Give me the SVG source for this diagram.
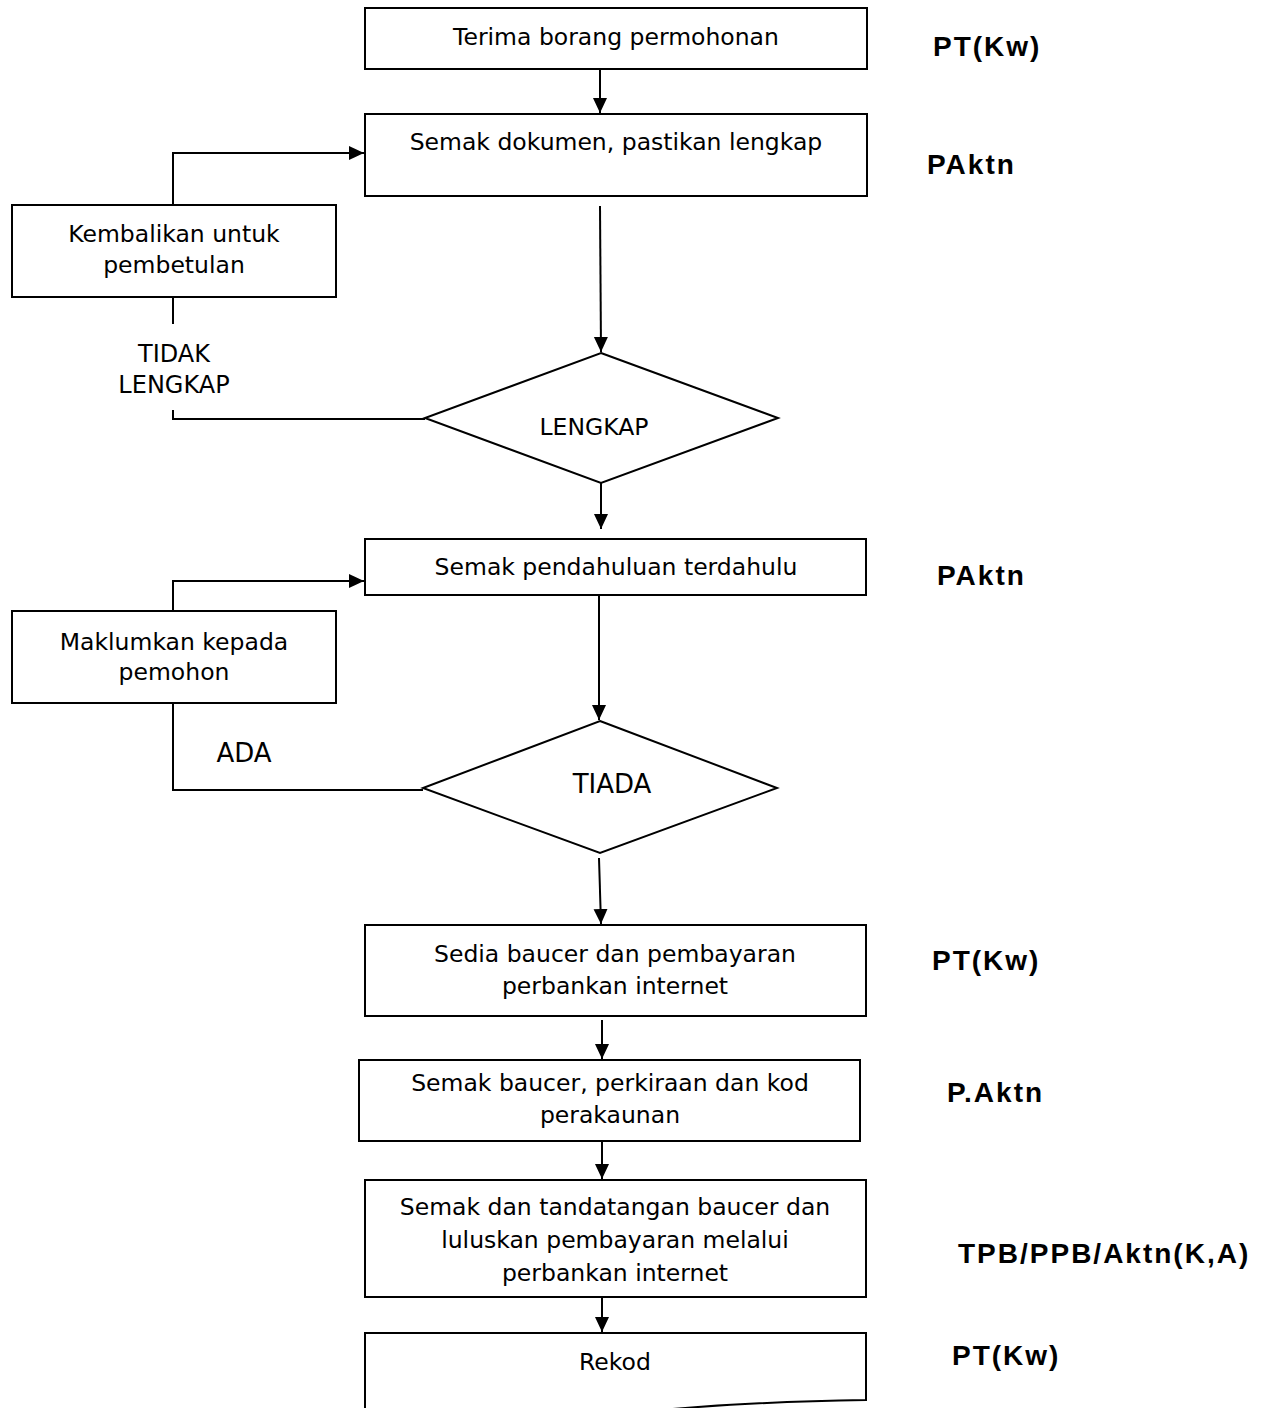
<svg xmlns="http://www.w3.org/2000/svg" width="1264" height="1408" viewBox="0 0 1264 1408">
<style>
.box{fill:#fff;stroke:#000;stroke-width:2}
.ln{fill:none;stroke:#000;stroke-width:2}
.t{font-family:"DejaVu Sans",Verdana,sans-serif;font-size:23.5px;fill:#000;text-anchor:middle}
.big{font-size:26px}
.r{font-family:"Liberation Sans",Arial,sans-serif;font-size:28px;font-weight:bold;letter-spacing:2px;fill:#000}
</style>
<defs>
<marker id="ah" markerUnits="userSpaceOnUse" markerWidth="16" markerHeight="16" refX="15" refY="7" orient="auto">
<path d="M0,0 L15,7 L0,14 Z" fill="#000"/>
</marker>
</defs>
<rect width="1264" height="1408" fill="#fff"/>

<g id="connectors">
<path class="ln" d="M600,69 V113" marker-end="url(#ah)"/>
<path class="ln" d="M600,206 L601,352" marker-end="url(#ah)"/>
<path class="ln" d="M601,483 V529" marker-end="url(#ah)"/>
<path class="ln" d="M425,419 H173 V410"/>
<path class="ln" d="M173,324 V297"/>
<path class="ln" d="M173,205 V153 H364" marker-end="url(#ah)"/>
<path class="ln" d="M599,595 V720" marker-end="url(#ah)"/>
<path class="ln" d="M423,790 H173 V703"/>
<path class="ln" d="M173,611 V581 H364" marker-end="url(#ah)"/>
<path class="ln" d="M599,858 L601,924" marker-end="url(#ah)"/>
<path class="ln" d="M602,1020 V1059" marker-end="url(#ah)"/>
<path class="ln" d="M602,1141 V1179" marker-end="url(#ah)"/>
<path class="ln" d="M602,1297 V1332" marker-end="url(#ah)"/>
</g>

<g id="n1"><rect class="box" x="365" y="8" width="502" height="61"/><text class="t" x="616" y="45">Terima borang permohonan</text></g>
<g id="n2"><rect class="box" x="365" y="114" width="502" height="82"/><text class="t" x="616" y="150">Semak dokumen, pastikan lengkap</text></g>
<g id="n3"><rect class="box" x="12" y="205" width="324" height="92"/><text class="t" x="174" y="242">Kembalikan untuk</text><text class="t" x="174" y="273">pembetulan</text></g>
<g id="lbl1"><text class="t" x="174" y="362" style="font-size:24px">TIDAK</text><text class="t" x="174" y="393" style="font-size:24px">LENGKAP</text></g>
<g id="d1"><polygon class="box" points="601,353 778,418 601,483 425,418"/><text class="t" x="594" y="435">LENGKAP</text></g>
<g id="n4"><rect class="box" x="365" y="539" width="501" height="56"/><text class="t" x="616" y="575">Semak pendahuluan terdahulu</text></g>
<g id="n5"><rect class="box" x="12" y="611" width="324" height="92"/><text class="t" x="174" y="650">Maklumkan kepada</text><text class="t" x="174" y="680">pemohon</text></g>
<g id="lbl2"><text class="t big" x="244" y="762">ADA</text></g>
<g id="d2"><polygon class="box" points="600,721 777,788 600,853 423,788"/><text class="t big" x="612" y="793">TIADA</text></g>
<g id="n6"><rect class="box" x="365" y="925" width="501" height="91"/><text class="t" x="615" y="962">Sedia baucer dan pembayaran</text><text class="t" x="615" y="994">perbankan internet</text></g>
<g id="n7"><rect class="box" x="359" y="1060" width="501" height="81"/><text class="t" x="610" y="1091">Semak baucer, perkiraan dan kod</text><text class="t" x="610" y="1123">perakaunan</text></g>
<g id="n8"><rect class="box" x="365" y="1180" width="501" height="117"/><text class="t" x="615" y="1215">Semak dan tandatangan baucer dan</text><text class="t" x="615" y="1248">luluskan pembayaran melalui</text><text class="t" x="615" y="1281">perbankan internet</text></g>
<g id="n9"><path class="box" d="M365,1412 V1333 H866 V1400 C800,1401 720,1404 640,1412"/><text class="t" x="615" y="1370">Rekod</text></g>

<g id="roles">
<text class="r" x="933" y="56">PT(Kw)</text>
<text class="r" x="927" y="174">PAktn</text>
<text class="r" x="937" y="585">PAktn</text>
<text class="r" x="932" y="970">PT(Kw)</text>
<text class="r" x="947" y="1102">P.Aktn</text>
<text class="r" x="958" y="1263">TPB/PPB/Aktn(K,A)</text>
<text class="r" x="952" y="1365">PT(Kw)</text>
</g>
</svg>
